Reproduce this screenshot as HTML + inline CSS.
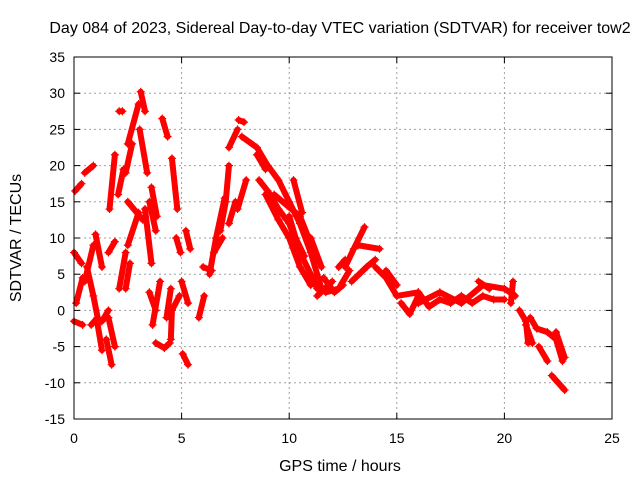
<!DOCTYPE html>
<html><head><meta charset="utf-8"><style>
html,body{margin:0;padding:0;background:#fff;}
svg{display:block;font-family:"Liberation Sans",sans-serif;}
</style></head><body>
<svg id="chart" width="640" height="480">
<text x="340" y="33" text-anchor="middle" font-size="16">Day 084 of 2023, Sidereal Day-to-day VTEC variation (SDTVAR) for receiver tow2</text>
<text x="340" y="471" text-anchor="middle" font-size="16">GPS time / hours</text>
<text transform="translate(21,238) rotate(-90)" text-anchor="middle" font-size="16">SDTVAR / TECUs</text>
<g id="grid"></g><g id="marks"></g><g id="axes"></g>
</svg>
<script>
const xTicks=[0,5,10,15,20,25];
const yTicks=[-15,-10,-5,0,5,10,15,20,25,30,35];
const tracks=[
[[0.05,16.5],[0.35,17.5]],
[[0.5,19],[0.9,20]],
[[0.0,8],[0.35,6.5]],
[[0.1,1],[0.4,4.5]],
[[0.0,-1.5],[0.4,-2]],
[[0.5,4],[0.9,9]],
[[0.6,6],[0.9,2],[1.1,-1]],
[[1.0,10.5],[1.3,6]],
[[0.8,-2],[1.1,-1]],
[[1.1,-2],[1.3,-5.5]],
[[1.5,-4],[1.75,-7.5]],
[[1.3,-1.5],[1.6,0]],
[[1.6,-1],[1.9,-5]],
[[1.6,8],[1.9,9.5]],
[[1.65,14],[1.9,21.5]],
[[2.05,16],[2.3,19.5]],
[[2.1,3],[2.4,8]],
[[2.1,27.5],[2.25,27.5]],
[[2.5,23],[3.0,28.5]],
[[2.4,19],[2.7,23]],
[[3.1,30.2],[3.3,27.5]],
[[3.05,25],[3.4,19]],
[[2.5,15],[3.2,12.5]],
[[2.5,9],[3.0,13.5]],
[[2.4,3],[2.6,6.5]],
[[3.3,14],[3.6,6.5]],
[[3.5,15],[3.8,11]],
[[3.6,17],[3.85,13]],
[[3.5,2.5],[3.8,0]],
[[3.65,-2],[4.0,4]],
[[4.3,-1],[4.5,3]],
[[4.1,26.5],[4.35,24]],
[[4.55,21],[4.8,14]],
[[3.8,-4.5],[4.2,-5.2],[4.45,-4.5]],
[[4.5,-4],[4.55,0],[4.9,2]],
[[5.05,-6],[5.3,-7.5]],
[[4.75,10],[4.95,8]],
[[5.2,11],[5.4,8.5]],
[[5.0,4],[5.3,1]],
[[5.8,-1],[6.05,2]],
[[6.0,6],[6.4,5.5]],
[[6.3,5],[6.6,10],[7.0,15.5]],
[[6.8,11],[7.05,15],[7.2,20]],
[[7.2,22.5],[7.6,25]],
[[7.65,26.3],[7.9,26]],
[[6.5,8],[6.9,10]],
[[7.2,12],[7.5,15]],
[[7.6,14],[8.0,18]],
[[8.5,21.5],[8.9,19.5]],
[[7.8,24],[8.5,22.5],[9.0,20],[9.5,18],[10.0,15],[10.5,12],[11.0,8],[11.5,3]],
[[8.6,18],[9.0,16.5],[9.5,14],[10.0,12],[10.5,8],[11.0,5],[11.3,3]],
[[8.9,16],[9.5,12.5],[10.0,10],[10.5,6],[11.0,3.5]],
[[9.3,16],[9.9,14.5],[10.5,13],[10.9,10],[11.2,7]],
[[10.2,18],[10.6,13.5]],
[[10.0,13],[10.3,10],[10.7,7.5]],
[[11.0,10],[11.5,6]],
[[11.3,2],[12.0,4]],
[[11.7,2.5],[12.3,3],[12.8,5.5]],
[[11.6,4.5],[12.1,2.5],[12.5,3.5]],
[[12.3,6],[12.6,7]],
[[12.6,6],[13.0,8.5],[13.5,11.5]],
[[13.2,9],[14.2,8.5]],
[[12.9,4],[13.6,6],[14.0,7]],
[[14.0,6],[14.5,4.5],[15.0,2]],
[[14.5,5.5],[15.0,3.5]],
[[15.0,2],[16.0,2.5]],
[[15.2,1],[15.6,-0.5],[16.0,2]],
[[16.0,1],[17.0,2.5],[18.0,1],[19.0,3.5],[20.0,3],[20.5,2]],
[[16.0,2.5],[16.5,0.5],[17.0,1.5],[17.5,1],[18.0,2],[18.5,1],[19.0,2],[19.5,1.5],[20.0,1.5]],
[[18.8,4],[19.3,3]],
[[20.3,1],[20.4,4]],
[[20.7,0],[21.0,-1.5],[21.1,-4.5]],
[[21.0,-2],[21.3,-4.5]],
[[21.2,-1],[21.5,-2.5],[22.0,-3],[22.4,-4],[22.7,-7]],
[[21.6,-5],[22.0,-7]],
[[22.4,-3],[22.8,-6.5]],
[[22.2,-9],[22.8,-11]]
];
const NS="http://www.w3.org/2000/svg";
const L=74,R=612,T=57,B=419;
function sx(t){return L+(t-0)/25*(R-L);}
function sy(v){return B-(v+15)/50*(B-T);}
const grid=document.getElementById('grid'),axes=document.getElementById('axes'),marks=document.getElementById('marks');
function mk(tag,attrs,parent){const e=document.createElementNS(NS,tag);for(const k in attrs)e.setAttribute(k,attrs[k]);parent.appendChild(e);return e;}
yTicks.forEach(v=>{
  const y=sy(v);
  if(v>-15&&v<35){const g=mk('line',{x1:L,x2:R,y1:y,y2:y,stroke:'#a0a0a0','stroke-dasharray':'2,3'},grid);
  
  }
  mk('line',{x1:L,x2:L+6,y1:y,y2:y,stroke:'#000'},axes);
  mk('line',{x1:R,x2:R-6,y1:y,y2:y,stroke:'#000'},axes);
  const t=mk('text',{x:L-9,y:y+5,'text-anchor':'end','font-size':'14'},axes);
  t.textContent=v;
  
  
});
xTicks.forEach(v=>{
  const x=sx(v);
  if(v>0&&v<25){const g=mk('line',{x1:x,x2:x,y1:T,y2:B,stroke:'#a0a0a0','stroke-dasharray':'2,3'},grid);
  
  }
  mk('line',{x1:x,x2:x,y1:B,y2:B-6,stroke:'#000'},axes);
  mk('line',{x1:x,x2:x,y1:T,y2:T+6,stroke:'#000'},axes);
  const t=mk('text',{x:x,y:B+24,'text-anchor':'middle','font-size':'14'},axes);
  t.textContent=v;
  
  
});
const box=mk('rect',{x:L,y:T,width:R-L,height:B-T,fill:'none',stroke:'#000'},axes);


tracks.forEach(tr=>{
  const p=mk('polyline',{points:tr.map(d=>sx(d[0])+','+sy(d[1])).join(' '),fill:'none',stroke:'#f00','stroke-width':'6','stroke-linecap':'round','stroke-linejoin':'round'},marks);
  
  
  tr.forEach(d=>{
    const x=sx(d[0]),y=sy(d[1]);
    const m=mk('path',{d:`M${x-4},${y}H${x+4}M${x},${y-4}V${y+4}`,stroke:'#f00','stroke-width':'1.2'},marks);
    
    
  });
});
</script>
</body></html>
